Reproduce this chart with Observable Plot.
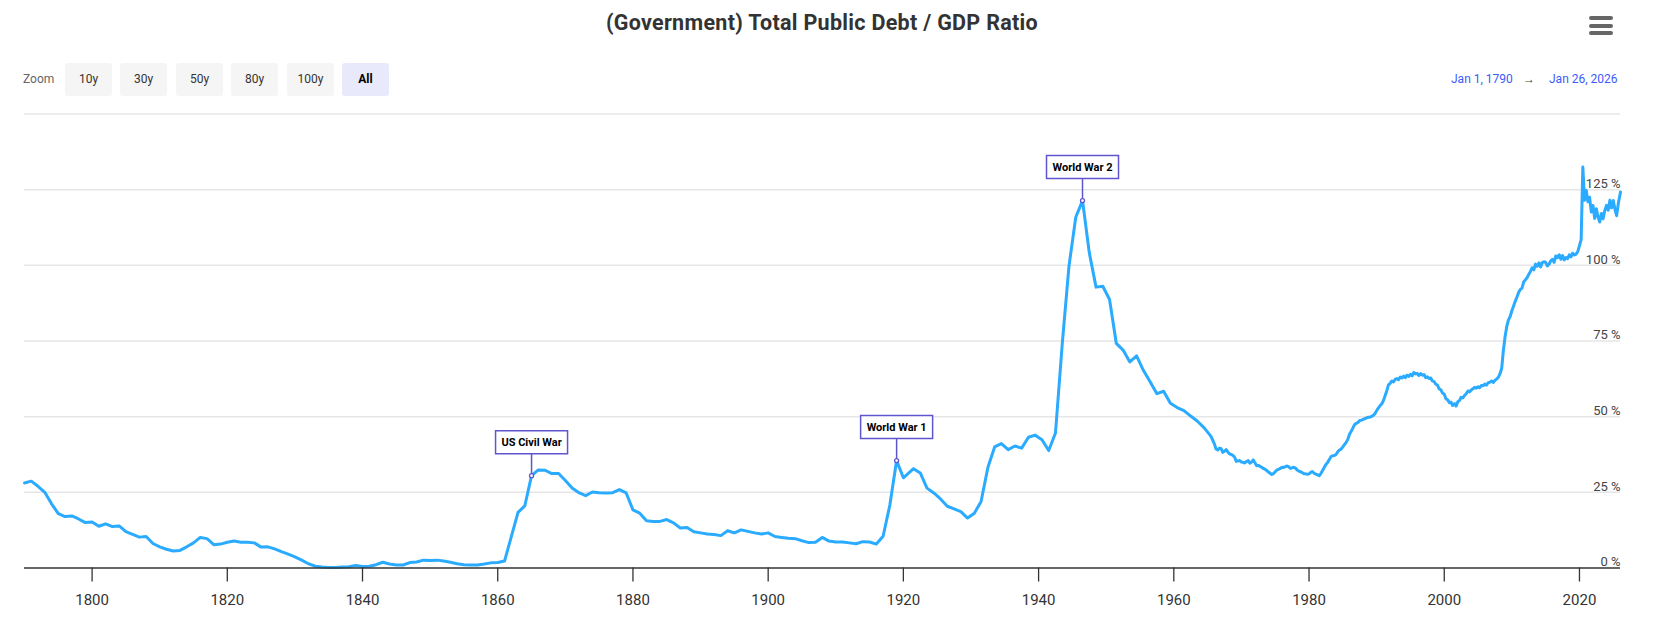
<!DOCTYPE html>
<html>
<head>
<meta charset="utf-8">
<script src="https://cdn.jsdelivr.net/npm/d3@7"></script>
<script src="https://cdn.jsdelivr.net/npm/@observablehq/plot@0.6"></script>
<style>
  html, body { margin: 0; padding: 0; background: #fff; }
  body { width: 1662px; height: 625px; overflow: hidden; font-family: Roboto, "Noto Sans", sans-serif; }
  #header { position: relative; width: 1662px; height: 100px; }
  #title { position: absolute; left: 24px; width: 1596px; top: 9px; text-align: center;
           font-size: 21.5px; letter-spacing: 0.3px; font-weight: 700; color: #333; line-height: 28px; }
  #menu { position: absolute; left: 1589px; top: 16px; width: 24px; }
  #menu span { display: block; height: 4px; border-radius: 2px; background: #666; margin-bottom: 3.5px; }
  #zoomLabel { position: absolute; left: 23px; top: 63px; line-height: 33px; font-size: 12px; color: #666; }
  .btn { position: absolute; top: 63px; width: 47px; height: 33px; line-height: 33px; text-align: center;
         background: #f5f5f5; color: #333; border-radius: 3px; font-size: 12px; }
  .btn.active { background: #e8e9fb; font-weight: 700; color: #000; }
  .range { position: absolute; top: 63px; line-height: 33px; font-size: 12px; color: #3b5bfd; }
  .arrow { position: absolute; top: 63px; line-height: 33px; font-size: 12px; color: #444; }
  svg { display: block; }
</style>
</head>
<body>
<div id="header">
  <div id="title">(Government) Total Public Debt / GDP Ratio</div>
  <div id="menu"><span></span><span></span><span></span></div>
  <div id="zoomLabel">Zoom</div>
</div>
<script>
// Federal debt as a share of GDP, in percent.
// Annual readings, dated January 1st (1790–1920).
const annual1790 = [
  28.1, 28.7, 27.0, 25.0, 21.2, 18.0, 17.0, 17.2, 16.2, 15.0,
  15.2, 13.8, 14.6, 13.7, 13.9, 12.0, 11.1, 10.2, 10.4, 8.1,
  7.0, 6.2, 5.6, 5.8, 7.0, 8.3, 10.1, 9.7, 7.7, 7.9,
  8.5, 8.9, 8.5, 8.5, 8.3, 6.9, 7.0, 6.3, 5.4, 4.6,
  3.7, 2.6, 1.4, 0.6, 0.3, 0.2, 0.2, 0.3, 0.4, 0.8
];
const annual1840 = [
  0.5, 0.6, 1.1, 1.9, 1.3, 1.0, 1.0, 1.8, 2.0, 2.6,
  2.5, 2.6, 2.3, 1.9, 1.4, 1.1, 1.0, 1.0, 1.3, 1.7,
  1.8, 2.3, 10.3, 18.4, 20.5, 30.5, 32.4, 32.3, 31.2, 31.2,
  28.9, 26.4, 24.9, 23.9, 25.1, 24.9, 24.8, 24.9, 25.9, 24.8,
  19.2, 18.1, 15.6, 15.4, 15.4, 16.0, 14.9, 13.2, 13.4, 12.0
];
const annual1890 = [
  11.6, 11.2, 11.1, 10.7, 12.3, 11.6, 12.6, 12.1, 11.6, 11.2,
  11.6, 10.4, 10.1, 9.8, 9.7, 9.0, 8.4, 8.5, 10.1, 8.9,
  8.6, 8.6, 8.3, 8.0, 8.7, 8.6, 7.9, 10.5, 20.8, 35.5,
  29.8
];
// Fiscal-year readings, dated July 1st (1921–1965).
const fiscal1921 = [
  32.8, 31.4, 26.4, 24.8, 22.8, 20.4, 19.5, 18.6, 16.5,
  18.1, 22.0, 33.2, 40.0, 41.1, 39.1, 40.3, 39.6, 43.2, 43.9,
  42.4, 38.8, 44.6, 74.0, 99.8, 115.9, 121.4, 104.2, 92.8, 93.1,
  88.7, 74.2, 72.0, 68.1, 70.1, 65.3, 61.5, 57.6, 58.4, 54.4,
  53.0, 52.0, 50.2, 48.5, 46.3, 43.5
];
// Quarterly readings (Q1..Q4 of each year).
const quarterly1966 = [
  41.0, 39.3, 39.0, 39.6,  39.4, 38.2, 38.6, 39.1,  38.3, 37.7, 37.5, 37.2,  36.6, 35.2, 35.4, 35.5
];
const quarterly1970 = [
  35.0, 34.9, 34.7, 35.2,  35.5, 34.6, 35.0, 35.7,  34.8, 33.8, 33.9, 33.6,  33.3, 32.9, 32.6, 32.2,
  31.7, 31.3, 30.9, 31.2,  31.8, 32.4, 32.6, 32.9,  33.3, 33.2, 33.5, 33.7,  33.4, 32.9, 33.1, 33.3,
  33.0, 32.4, 32.0, 31.8,  31.5, 31.1, 31.1, 31.0
];
const quarterly1980 = [
  31.1, 31.6, 31.9, 31.3,  31.0, 30.8, 30.5, 31.2,  32.2, 33.2, 34.2, 34.9,  35.8, 36.8, 37.1, 37.2,
  37.5, 38.4, 39.0, 39.3,  40.0, 40.8, 41.5, 42.6,  44.3, 45.2, 46.3, 47.4,  47.8, 48.1, 48.7, 48.8,
  49.1, 49.3, 49.6, 49.8,  49.8, 50.1, 50.4, 51.0
];
const quarterly1990 = [
  52.0, 52.8, 53.6, 54.2,  55.3, 56.9, 58.5, 60.5,  61.0, 61.8, 61.5, 62.3,  62.6, 62.2, 63.1, 62.8,
  63.4, 62.9, 63.7, 63.3,  64.0, 63.5, 64.6, 64.1,  64.3, 63.6, 64.2, 63.7,  63.9, 62.9, 63.2, 62.6,
  62.8, 61.8, 61.6, 60.7,  60.4, 59.2, 58.9, 57.8
];
const quarterly2000 = [
  57.4, 55.9, 55.6, 54.6,  54.8, 53.7, 54.3, 53.5,  54.9, 55.3, 56.4, 56.2,  57.0, 57.6, 58.5, 58.2,
  58.8, 59.2, 59.7, 59.4,  59.9, 59.6, 60.3, 60.2,  60.8, 60.4, 61.2, 61.4,  61.8, 61.3, 62.0, 62.4,
  63.0, 64.2, 66.0, 72.0,  76.5, 79.8, 82.0, 83.1
];
const quarterly2010 = [
  85.0, 86.5, 88.1, 89.5,  91.0, 92.0, 92.5, 94.5,  95.2, 95.9, 97.0, 98.0,  99.2, 98.5, 100.4, 99.7,
  100.8, 99.5, 100.9, 101.2,  101.0, 99.8, 100.3, 101.5,  102.0, 101.0, 103.1, 102.5,  103.5, 102.0, 103.2, 101.8,
  102.6, 102.2, 103.5, 102.8,  104.0, 103.4, 103.7, 104.5
];
const quarterly2020 = [
  106.5, 108.5, 132.5, 121.5,  124.8, 121.0, 122.5, 117.6,  119.8, 115.5, 118.7, 116.0,
  114.3, 117.1, 115.4, 118.1,  119.8, 118.2, 121.5, 119.0,  121.4, 118.5, 116.4, 120.5
];
const latestDate = "2026-01-26";
const latestValue = 124.2;

// Annotated events
const eventLabels = ["US Civil War", "World War 1", "World War 2"];
const eventDates = ["1865-01-01", "1919-01-01", "1946-07-01"];

// Axis ticks
const yTicks = [0, 25, 50, 75, 100, 125];
const gridLevels = [25, 50, 75, 100, 125, 150];

// Toolbar texts
const zoomButtons = ["10y", "30y", "50y", "80y", "100y", "All"];
const rangeStart = "Jan 1, 1790";
const rangeEnd = "Jan 26, 2026";

// ---- build the series ----
const rows = [];
const pushAnnual = (start, values, month) =>
  values.forEach((v, i) => rows.push({date: new Date(Date.UTC(start + i, month, 1)), value: v}));
const pushQuarterly = (start, values) =>
  values.forEach((v, i) => rows.push({date: new Date(Date.UTC(start + Math.floor(i / 4), (i % 4) * 3, 1)), value: v}));

pushAnnual(1790, annual1790, 0);
pushAnnual(1840, annual1840, 0);
pushAnnual(1890, annual1890, 0);
pushAnnual(1921, fiscal1921, 6);
pushQuarterly(1966, quarterly1966);
pushQuarterly(1970, quarterly1970);
pushQuarterly(1980, quarterly1980);
pushQuarterly(1990, quarterly1990);
pushQuarterly(2000, quarterly2000);
pushQuarterly(2010, quarterly2010);
pushQuarterly(2020, quarterly2020);
rows.push({date: new Date(latestDate + "T00:00:00Z"), value: latestValue});

const events = eventLabels.map((label, i) => {
  const t = new Date(eventDates[i] + "T00:00:00Z").getTime();
  const row = rows.find(r => r.date.getTime() === t);
  return {label, date: row.date, value: row.value};
});

// ---- toolbar ----
const header = document.getElementById("header");
const btnLefts = [65, 120, 176, 231, 287, 342];
zoomButtons.forEach((b, i) => {
  const el = document.createElement("div");
  el.className = "btn" + (b === "All" ? " active" : "");
  el.style.left = btnLefts[i] + "px";
  el.textContent = b;
  header.appendChild(el);
});
const r1 = document.createElement("div");
r1.className = "range"; r1.style.left = "1451px"; r1.textContent = rangeStart;
const ar = document.createElement("div");
ar.className = "arrow"; ar.style.left = "1523px"; ar.textContent = "\u2192";
const r2 = document.createElement("div");
r2.className = "range"; r2.style.left = "1549px"; r2.textContent = rangeEnd;
header.append(r1, ar, r2);

// ---- chart ----
const lineColor = "#2aabff";
const noteColor = "#5f55cf";

// label box drawn above each annotated point, with its connector
const callout = {
  draw(ctx) {
    ctx.moveTo(0, 0);
    ctx.lineTo(0, -22);
    ctx.moveTo(-36, -22);
    ctx.lineTo(36, -22);
    ctx.lineTo(36, -45);
    ctx.lineTo(-36, -45);
    ctx.closePath();
  }
};

const chart = Plot.plot({
  width: 1662,
  height: 525,
  marginLeft: 24,
  marginRight: 42,
  marginTop: 13.5,
  marginBottom: 57.5,
  style: {fontFamily: "Roboto, 'Noto Sans', sans-serif", background: "#fff", color: "#333", overflow: "visible"},
  x: {type: "utc", domain: [new Date(Date.UTC(1790, 0, 1)), new Date(latestDate + "T00:00:00Z")]},
  y: {domain: [0, 150]},
  marks: [
    Plot.ruleY(gridLevels, {stroke: "#e6e6e6", strokeWidth: 1.5}),
    Plot.axisY({anchor: "right", ticks: yTicks, tickFormat: d => `${d} %`, tickSize: 0, tickPadding: 0,
                textAnchor: "end", dy: -6, fontSize: 13, fill: "#444", label: null}),
    Plot.lineY(rows, {x: "date", y: "value", stroke: lineColor, strokeWidth: 3, strokeLinejoin: "round"}),
    Plot.ruleY([0], {stroke: "#333", strokeWidth: 1.5}),
    Plot.axisX({ticks: d3.utcYear.every(20), tickFormat: d3.utcFormat("%Y"), tickSize: 14, tickPadding: 12,
                fontSize: 15, stroke: "#333", strokeWidth: 1.3, fill: "#333", label: null}),
    Plot.dot(events, {x: "date", y: "value", symbol: callout, r: 5, stroke: noteColor, strokeWidth: 1.5, fill: "white"}),
    Plot.dot(events, {x: "date", y: "value", r: 2, stroke: noteColor, strokeWidth: 1.3, fill: "white"}),
    Plot.text(events, {x: "date", y: "value", text: "label", dy: -33.5, fontSize: 11, fontWeight: "bold", fill: "#000"})
  ]
});
document.body.appendChild(chart);
</script>
</body>
</html>
